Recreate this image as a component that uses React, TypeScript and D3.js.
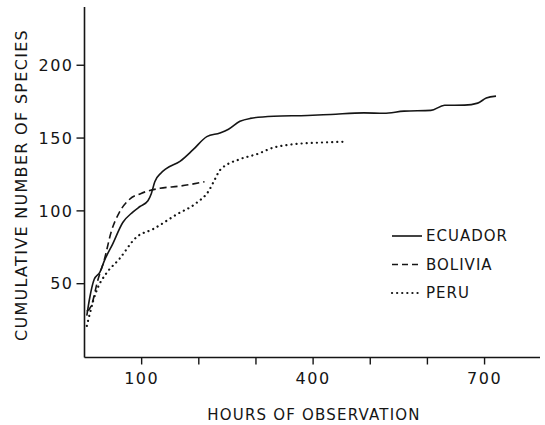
import React from "react";
import * as d3 from "d3";

// values: [hours, cumulative species]
const ecuador: [number, number][] = [
  [4, 28], [9, 40], [17, 53], [27, 58], [35, 66], [49, 77], [67, 92],
  [84, 99], [97, 103], [111, 107], [117, 112], [123, 120], [134, 126],
  [143, 129], [167, 134], [190, 142], [214, 151], [237, 153.5], [252, 156],
  [272, 161.5], [290, 163.5], [331, 165], [390, 165.5], [431, 166.2],
  [489, 167.3], [524, 167], [559, 168.5], [606, 169], [630, 172.5],
  [665, 172.6], [688, 174], [703, 177.5], [720, 178.8],
];
const bolivia: [number, number][] = [
  [4, 31], [12, 35], [23, 52], [35, 67], [47, 86], [61, 99], [79, 108],
  [99, 112], [132, 115.5], [167, 117], [210, 120],
];
const peru: [number, number][] = [
  [4, 21], [9, 29], [15, 38], [23, 47], [38, 57], [61, 67], [91, 82],
  [120, 87.5], [161, 97.5], [196, 105.5], [217, 113.5], [228, 121.5],
  [237, 128], [272, 135.5], [302, 139], [331, 143.5], [360, 145.5],
  [419, 147], [458, 147.5],
];

const xTicks = [100, 200, 300, 400, 500, 600, 700];
const xTickLabels = [100, 400, 700];
const yTicks = [50, 100, 150, 200];

const seriesNames = ["ECUADOR", "BOLIVIA", "PERU"];
const dashes = [null, "7 4", "0.1 5"];

const FONT = "'DejaVu Sans', sans-serif";
const INK = "#151515";

export default function App() {
  const width = 545;
  const height = 425;

  const x = d3.scaleLinear().domain([0, 797]).range([84.5, 540]);
  const y = d3.scaleLinear().domain([0, 240]).range([356.5, 7]);

  const line = d3
    .line<[number, number]>()
    .x((d) => x(d[0]))
    .y((d) => y(d[1]))
    .curve(d3.curveMonotoneX);

  const allSeries = [ecuador, bolivia, peru];
  const x0 = x(0);
  const y0 = y(0);

  return (
    <div style={{ position: "fixed", left: 0, top: 0 }}>
      <svg width={width} height={height} style={{ display: "block", background: "#fff" }}>
        {/* axes */}
        <line x1={x0} x2={x0} y1={y(240)} y2={y0 + 1} stroke={INK} strokeWidth={1.6} />
        <line x1={x0} x2={540} y1={y0 + 1} y2={y0 + 1} stroke={INK} strokeWidth={1.6} />

        {xTicks.map((t) => (
          <line key={t} x1={x(t)} x2={x(t)} y1={y0 + 1} y2={y0 + 8} stroke={INK} strokeWidth={1.4} />
        ))}
        {xTickLabels.map((t) => (
          <text
            key={t}
            x={x(t)}
            y={y0 + 27}
            textAnchor="middle"
            fontFamily={FONT}
            fontSize={16}
            letterSpacing={1.5}
            fill={INK}
          >
            {t}
          </text>
        ))}

        {yTicks.map((t) => (
          <g key={t}>
            <line x1={x0 - 8} x2={x0} y1={y(t)} y2={y(t)} stroke={INK} strokeWidth={1.4} />
            <text
              x={x0 - 11}
              y={y(t)}
              dy="0.36em"
              textAnchor="end"
              fontFamily={FONT}
              fontSize={16}
              letterSpacing={1.5}
              fill={INK}
            >
              {t}
            </text>
          </g>
        ))}

        <text
          x={314}
          y={420}
          textAnchor="middle"
          fontFamily={FONT}
          fontSize={15}
          letterSpacing={1.2}
          fill={INK}
        >
          HOURS OF OBSERVATION
        </text>
        <text
          transform="translate(27,185) rotate(-90)"
          textAnchor="middle"
          fontFamily={FONT}
          fontSize={16}
          letterSpacing={1.3}
          fill={INK}
        >
          CUMULATIVE NUMBER OF SPECIES
        </text>

        {/* curves */}
        {allSeries.map((s, i) => (
          <path
            key={seriesNames[i]}
            d={line(s) ?? undefined}
            fill="none"
            stroke={INK}
            strokeWidth={i === 2 ? 2.2 : 1.6}
            strokeDasharray={dashes[i] ?? undefined}
            strokeLinecap={i === 2 ? "round" : "butt"}
          />
        ))}

        {/* legend */}
        {seriesNames.map((name, i) => {
          const ly = 236 + i * 28.5;
          return (
            <g key={name}>
              <line
                x1={392}
                x2={422}
                y1={ly}
                y2={ly}
                stroke={INK}
                strokeWidth={i === 2 ? 2.2 : 1.6}
                strokeDasharray={i === 1 ? "6 4" : dashes[i] ?? undefined}
                strokeLinecap={i === 2 ? "round" : "butt"}
              />
              <text
                x={426}
                y={ly}
                dy="0.36em"
                fontFamily={FONT}
                fontSize={15}
                letterSpacing={1}
                fill={INK}
              >
                {name}
              </text>
            </g>
          );
        })}
      </svg>
    </div>
  );
}
